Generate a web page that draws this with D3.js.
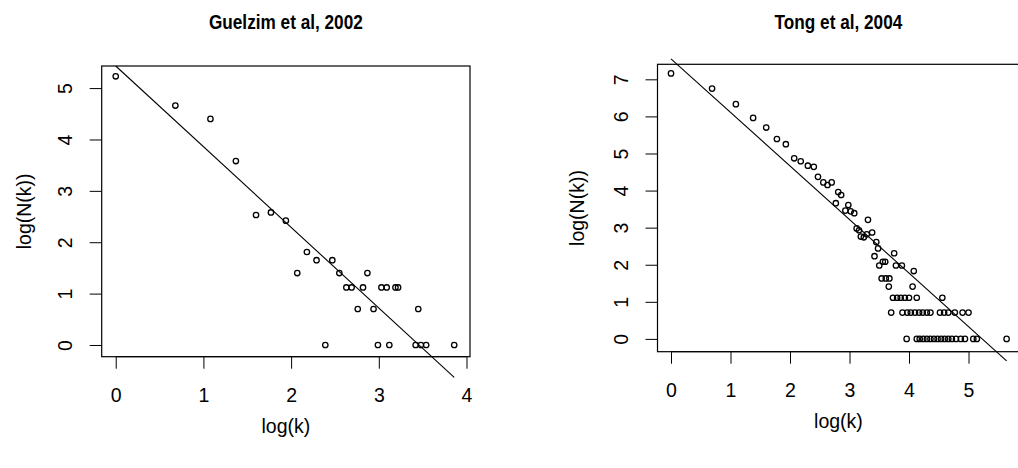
<!DOCTYPE html>
<html lang="en">
<head>
    <meta charset="UTF-8">
    <title>log(N(k)) vs log(k)</title>
    <script src="https://d3js.org/d3.v7.min.js"></script>
    <style>
        body { margin: 0; background: #ffffff; }
        text { font-family: "Liberation Sans", Arial, sans-serif; fill: #000; }
    </style>
</head>
<body>
    <div id="chart"></div>

    <script>
        const width = 1018;
        const height = 468;

        // Guelzim et al, 2002
        const leftX = [0, 0.68, 1.08, 1.37, 1.60, 1.77, 1.94, 2.07, 2.18, 2.29, 2.39, 2.47, 2.55, 2.63, 2.69,
                       2.76, 2.82, 2.87, 2.94, 2.99, 3.03, 3.09, 3.12, 3.19, 3.22, 3.42, 3.45, 3.48, 3.54, 3.86];
        const leftY = [5.23, 4.66, 4.40, 3.58, 2.53, 2.58, 2.42, 1.40, 1.81, 1.65, 0, 1.65, 1.40, 1.12, 1.12,
                       0.70, 1.12, 1.40, 0.70, 0, 1.12, 1.12, 0, 1.12, 1.12, 0, 0.70, 0, 0, 0];
        const leftFit = [5.43, -1.57];   // intercept, slope

        // Tong et al, 2004
        const rightX = [0, 0.69, 1.09, 1.38, 1.60, 1.78, 1.93, 2.07, 2.18, 2.30, 2.40, 2.47, 2.56, 2.63, 2.70,
                        2.77, 2.81, 2.86, 2.93, 2.98, 3.02, 3.08, 3.12, 3.16, 3.19, 3.24, 3.29, 3.31, 3.38,
                        3.42, 3.45, 3.48, 3.50, 3.56, 3.60, 3.54, 3.61, 3.67, 3.66, 3.75, 3.78, 3.88, 4.08, 4.06,
                        3.73, 3.80, 3.86, 3.93, 4.00, 4.13, 4.56,
                        3.70, 3.89, 3.97, 4.03, 4.10, 4.17, 4.23, 4.30, 4.36, 4.52, 4.59, 4.66, 4.77, 4.90, 5.00,
                        3.96, 4.13, 4.18, 4.24, 4.30, 4.36, 4.42, 4.48, 4.54, 4.60, 4.66, 4.72, 4.79, 4.87, 4.94,
                        5.08, 5.14, 5.64];
        const rightY = [7.16, 6.75, 6.33, 5.96, 5.70, 5.39, 5.25, 4.87, 4.79, 4.67, 4.64, 4.37, 4.22, 4.15, 4.22,
                        3.66, 3.96, 3.88, 3.46, 3.61, 3.44, 3.39, 2.98, 2.93, 2.76, 2.74, 2.82, 3.21, 2.87,
                        2.23, 2.61, 2.44, 1.98, 2.08, 2.08, 1.63, 1.63, 1.63, 1.41, 2.31, 1.98, 1.98, 1.83, 1.41,
                        1.11, 1.11, 1.11, 1.11, 1.11, 1.11, 1.11,
                        0.71, 0.71, 0.71, 0.71, 0.71, 0.71, 0.71, 0.71, 0.71, 0.71, 0.71, 0.71, 0.71, 0.71, 0.71,
                        0, 0, 0, 0, 0, 0, 0, 0, 0, 0, 0, 0, 0, 0, 0,
                        0, 0, 0];
        const rightFit = [7.55, -1.444];

        const leftXTicks = [0, 1, 2, 3, 4];
        const leftYTicks = [0, 1, 2, 3, 4, 5];
        const rightXTicks = [0, 1, 2, 3, 4, 5];
        const rightYTicks = [0, 1, 2, 3, 4, 5, 6, 7];

        const panels = [
            {
                title: "Guelzim et al, 2002", xs: leftX, ys: leftY, fit: leftFit,
                xTicks: leftXTicks, yTicks: leftYTicks,
                xDomain: [-0.16, 4.04], yDomain: [-0.228, 5.43],
                left: 101.7, right: 470, top: 66, bottom: 356.7,
                ylabX: 24, xlabY: 433
            },
            {
                title: "Tong et al, 2004", xs: rightX, ys: rightY, fit: rightFit,
                xTicks: rightXTicks, yTicks: rightYTicks,
                xDomain: [-0.227, 5.855], yDomain: [-0.345, 7.405],
                left: 657.5, right: 1019.4, top: 64.3, bottom: 351.7,
                ylabX: 577, xlabY: 428
            }
        ];

        const fontSize = "19.5px";

        const svg = d3.select("#chart")
            .append("svg")
            .attr("width", width)
            .attr("height", height)
            .style("background", "#fff");

        panels.forEach(p => {
            const x = d3.scaleLinear().domain(p.xDomain).range([p.left, p.right]);
            const y = d3.scaleLinear().domain(p.yDomain).range([p.bottom, p.top]);
            const cx = (p.left + p.right) / 2;
            const cy = (p.top + p.bottom) / 2;
            const g = svg.append("g");

            // x axis, R style
            const gx = g.append("g")
                .attr("transform", `translate(0,${p.bottom})`)
                .call(d3.axisBottom(x).tickValues(p.xTicks).tickSize(12).tickSizeOuter(0).tickFormat(d3.format("d")));
            gx.select(".domain").remove();
            gx.append("line")
                .attr("x1", x(p.xTicks[0])).attr("x2", x(p.xTicks[p.xTicks.length - 1]))
                .attr("stroke", "#000");
            gx.selectAll(".tick line").attr("stroke", "#000");
            gx.selectAll(".tick text")
                .attr("y", 45).attr("dy", 0)
                .style("font-size", fontSize)
                .style("font-family", "'Liberation Sans', Arial, sans-serif");

            // y axis, labels rotated like R's las = 0
            const gy = g.append("g")
                .attr("transform", `translate(${p.left},0)`)
                .call(d3.axisLeft(y).tickValues(p.yTicks).tickSize(12).tickSizeOuter(0).tickFormat(d3.format("d")));
            gy.select(".domain").remove();
            gy.selectAll(".tick line").attr("stroke", "#000");
            gy.selectAll(".tick text")
                .attr("transform", "rotate(-90)")
                .attr("x", 0).attr("y", -29.5).attr("dy", 0)
                .attr("text-anchor", "middle")
                .style("font-size", fontSize)
                .style("font-family", "'Liberation Sans', Arial, sans-serif");

            // plot box
            g.append("rect")
                .attr("x", p.left).attr("y", p.top)
                .attr("width", p.right - p.left).attr("height", p.bottom - p.top)
                .attr("fill", "none").attr("stroke", "#000").attr("stroke-width", 1.2);

            // fitted line (not clipped, as in the original)
            const xMax = d3.max(p.xs);
            const fitLine = [[0, p.fit[0]], [xMax, p.fit[0] + p.fit[1] * xMax]];
            g.append("path")
                .attr("d", d3.line().x(d => x(d[0])).y(d => y(d[1]))(fitLine))
                .attr("fill", "none").attr("stroke", "#000").attr("stroke-width", 1.1);

            // points
            g.selectAll("circle.pt")
                .data(p.xs.map((v, i) => [v, p.ys[i]]))
                .join("circle")
                .attr("class", "pt")
                .attr("cx", d => x(d[0]))
                .attr("cy", d => y(d[1]))
                .attr("r", 2.7)
                .attr("fill", "none")
                .attr("stroke", "#000")
                .attr("stroke-width", 1.3);

            // title: bold, slightly condensed
            g.append("text")
                .attr("transform", `translate(${cx},29) scale(0.86,1)`)
                .attr("text-anchor", "middle")
                .style("font-size", "20px").style("font-weight", "bold")
                .text(p.title);

            g.append("text")
                .attr("x", cx).attr("y", p.xlabY)
                .attr("text-anchor", "middle")
                .style("font-size", fontSize)
                .text("log(k)");

            g.append("text")
                .attr("transform", `translate(${p.ylabX + 7},${cy}) rotate(-90)`)
                .attr("text-anchor", "middle")
                .style("font-size", fontSize)
                .text("log(N(k))");
        });
    </script>
</body>
</html>
